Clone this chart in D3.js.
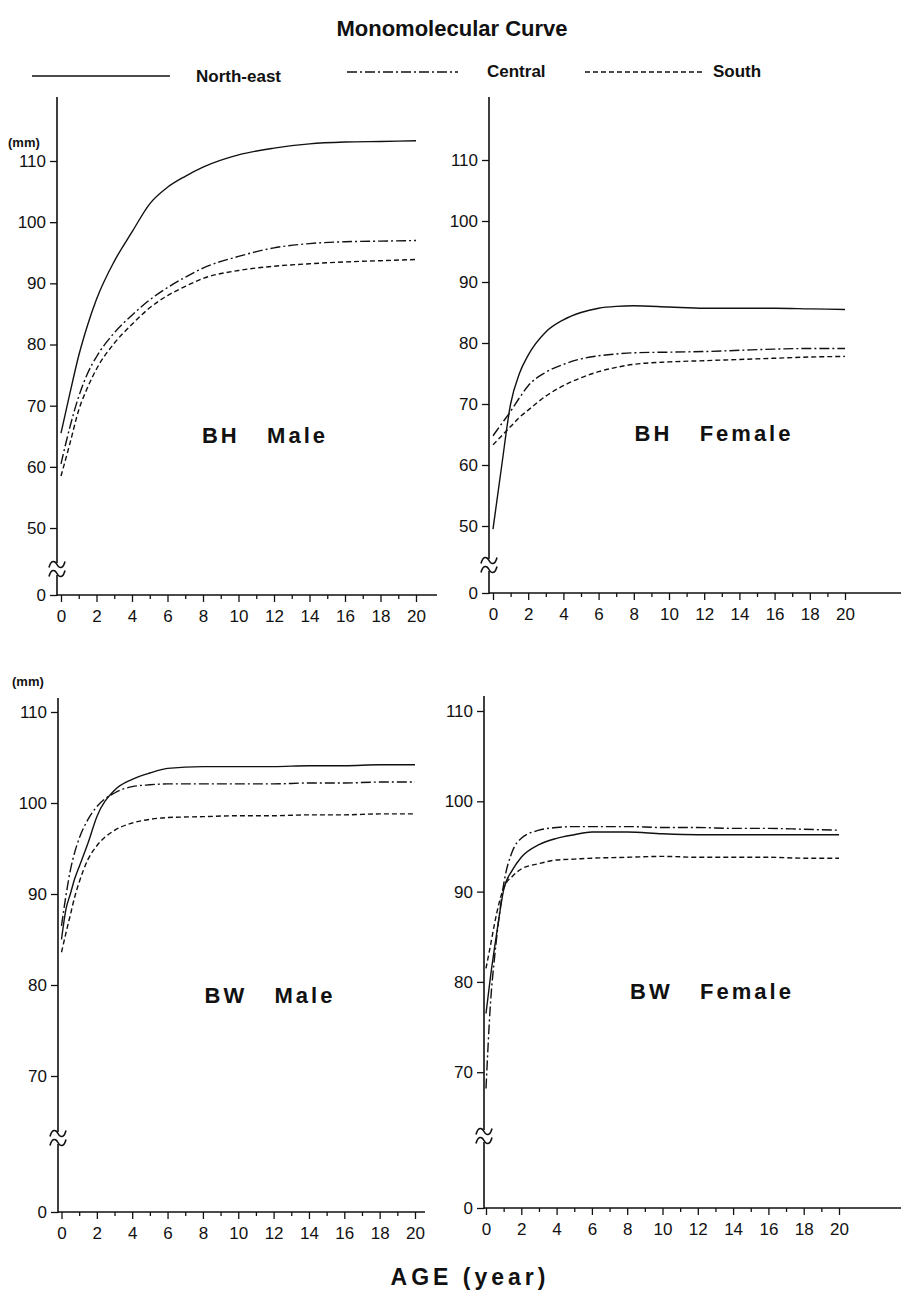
<!DOCTYPE html>
<html>
<head>
<meta charset="utf-8">
<script src="https://cdn.jsdelivr.net/npm/d3@7"></script>
<style>
    body { margin: 0; background: #fff; }
    svg { display: block; }
    text { fill: #111; }
    .tick text { font-family: 'Liberation Sans', Arial, sans-serif; font-size: 17px; fill: #111; }
    .tick line { stroke: #111; stroke-width: 1.3; }
    .axis-line { stroke: #111; stroke-width: 1.6; fill: none; }
    .curve { fill: none; stroke: #111; stroke-width: 1.4; }
    .title { font-family: 'Liberation Sans', Arial, sans-serif; font-weight: bold; font-size: 22px; }
    .legend-label { font-family: 'Liberation Sans', Arial, sans-serif; font-weight: bold; font-size: 17px; }
    .panel-title { font-family: 'Liberation Sans', Arial, sans-serif; font-weight: bold; font-size: 22px; letter-spacing: 3px; white-space: pre; }
    .unit { font-family: 'Liberation Sans', Arial, sans-serif; font-weight: bold; font-size: 13px; }
    .axis-label { font-family: 'Liberation Sans', Arial, sans-serif; font-weight: bold; font-size: 23px; letter-spacing: 4px; }
</style>
</head>
<body>
<script>
// data
const regions = ['North-east', 'Central', 'South']
const ageTicks = d3.range(0, 21)
const bhTicks = [0, 50, 60, 70, 80, 90, 100, 110]
const bwTicks = [0, 70, 80, 90, 100, 110]

const agesBH = [0, 0.5, 1, 1.5, 2, 3, 4, 5, 6, 7, 8, 10, 12, 14, 16, 18, 20]
const bhMaleNorthEast = [65.5, 72.0, 78.2, 83.2, 87.4, 93.6, 98.4, 103.0, 105.7, 107.5, 109.0, 111.0, 112.1, 112.8, 113.1, 113.2, 113.3]
const bhMaleCentral = [60.5, 66.5, 71.5, 75.3, 78.0, 81.9, 84.8, 87.3, 89.3, 91.0, 92.5, 94.4, 95.8, 96.5, 96.8, 96.9, 97.0]
const bhMaleSouth = [58.5, 63.8, 69.3, 73.0, 76.0, 80.2, 83.3, 86.0, 88.0, 89.5, 90.8, 92.1, 92.8, 93.2, 93.5, 93.7, 93.9]
const bhFemaleNorthEast = [49.5, 60.0, 70.0, 75.0, 78.0, 81.8, 83.8, 85.0, 85.7, 86.0, 86.1, 85.9, 85.7, 85.7, 85.7, 85.6, 85.5]
const bhFemaleCentral = [64.8, 66.8, 68.8, 71.0, 73.0, 75.2, 76.5, 77.4, 77.9, 78.2, 78.4, 78.5, 78.6, 78.8, 79.0, 79.1, 79.1]
const bhFemaleSouth = [63.3, 64.8, 66.3, 67.8, 69.0, 71.3, 73.0, 74.3, 75.3, 76.0, 76.5, 76.9, 77.1, 77.3, 77.5, 77.7, 77.8]

const agesBW = [0, 0.25, 0.5, 0.75, 1, 1.5, 2, 3, 4, 5, 6, 8, 10, 12, 14, 16, 18, 20]
const bwMaleNorthEast = [85.0, 88.3, 90.0, 91.7, 93.0, 95.6, 98.5, 101.4, 102.6, 103.3, 103.8, 104.0, 104.0, 104.0, 104.1, 104.1, 104.2, 104.2]
const bwMaleCentral = [86.5, 89.8, 92.6, 94.6, 96.1, 98.2, 99.6, 101.1, 101.8, 102.0, 102.1, 102.1, 102.1, 102.1, 102.2, 102.2, 102.3, 102.3]
const bwMaleSouth = [83.6, 85.7, 87.7, 89.7, 91.3, 93.8, 95.3, 97.0, 97.8, 98.2, 98.4, 98.5, 98.6, 98.6, 98.7, 98.7, 98.8, 98.8]
const bwFemaleNorthEast = [76.5, 80.5, 84.0, 87.3, 90.2, 92.4, 93.8, 95.2, 95.9, 96.3, 96.6, 96.6, 96.4, 96.3, 96.3, 96.3, 96.3, 96.3]
const bwFemaleCentral = [68.2, 77.5, 83.0, 87.3, 90.8, 94.5, 95.9, 96.8, 97.1, 97.2, 97.2, 97.2, 97.1, 97.1, 97.0, 97.0, 96.9, 96.8]
const bwFemaleSouth = [81.5, 84.0, 86.6, 88.8, 90.4, 91.7, 92.5, 93.1, 93.5, 93.6, 93.7, 93.8, 93.9, 93.8, 93.8, 93.8, 93.7, 93.7]

// layout
const width = 901
const height = 1293
const dashes = {'North-east': null, 'Central': '10,3,2,3', 'South': '5,3'}

const panels = [
    {
        title: 'BH   Male', ages: agesBH, ticks: bhTicks, low: 45,
        series: [bhMaleNorthEast, bhMaleCentral, bhMaleSouth],
        axisX: 57, x0: 61, x20: 416, xEnd: 437,
        yTop: 97, y110: 161, perUnit: 6.117, y0: 595, yBreak: 569,
        titleX: 265, titleY: 443
    },
    {
        title: 'BH   Female', ages: agesBH, ticks: bhTicks, low: 45,
        series: [bhFemaleNorthEast, bhFemaleCentral, bhFemaleSouth],
        axisX: 489, x0: 493, x20: 845, xEnd: 901,
        yTop: 97, y110: 160, perUnit: 6.1, y0: 593, yBreak: 565,
        titleX: 714, titleY: 441
    },
    {
        title: 'BW   Male', ages: agesBW, ticks: bwTicks, low: 60,
        series: [bwMaleNorthEast, bwMaleCentral, bwMaleSouth],
        axisX: 58, x0: 61.5, x20: 415, xEnd: 425,
        yTop: 698, y110: 712, perUnit: 9.1, y0: 1212, yBreak: 1138,
        titleX: 270, titleY: 1003
    },
    {
        title: 'BW   Female', ages: agesBW, ticks: bwTicks, low: 60,
        series: [bwFemaleNorthEast, bwFemaleCentral, bwFemaleSouth],
        axisX: 484, x0: 486, x20: 839, xEnd: 901,
        yTop: 696, y110: 711, perUnit: 9.03, y0: 1208, yBreak: 1136,
        titleX: 712, titleY: 999
    }
]

const svg = d3.select('body').append('svg')
    .attr('width', width)
    .attr('height', height)

// title
svg.append('text')
    .attr('class', 'title')
    .attr('x', 452)
    .attr('y', 36)
    .attr('text-anchor', 'middle')
    .text('Monomolecular Curve')

// legend
const legendItems = [
    {region: regions[0], x1: 32, x2: 170, y: 76, tx: 196, ty: 82},
    {region: regions[1], x1: 347, x2: 458, y: 72, tx: 487, ty: 77},
    {region: regions[2], x1: 585, x2: 704, y: 72, tx: 713, ty: 77}
]
legendItems.forEach(d => {
    svg.append('line')
        .attr('class', 'curve')
        .attr('x1', d.x1).attr('x2', d.x2)
        .attr('y1', d.y).attr('y2', d.y)
        .attr('stroke-dasharray', dashes[d.region])
    svg.append('text')
        .attr('class', 'legend-label')
        .attr('x', d.tx)
        .attr('y', d.ty)
        .text(d.region)
})

// panels
panels.forEach(drawPanel)

// units
svg.append('text').attr('class', 'unit').attr('x', 8).attr('y', 147).text('(mm)')
svg.append('text').attr('class', 'unit').attr('x', 12).attr('y', 686).text('(mm)')

// x axis label
svg.append('text')
    .attr('class', 'axis-label')
    .attr('x', 470)
    .attr('y', 1285)
    .attr('text-anchor', 'middle')
    .text('AGE (year)')


function drawPanel(p) {
    const g = svg.append('g')

    // scales (broken y axis: compressed segment below p.low)
    const yLow = p.y110 + (110 - p.low) * p.perUnit
    const y = d3.scaleLinear()
        .domain([0, p.low, 110])
        .range([p.y0, yLow, p.y110])
    const x = d3.scaleLinear()
        .domain([0, 20])
        .range([p.x0, p.x20])

    // axes
    const yAxis = d3.axisLeft(y)
        .tickValues(p.ticks)
        .tickSize(7)
        .tickPadding(4)
    const gy = g.append('g')
        .attr('transform', `translate(${p.axisX},0)`)
        .call(yAxis)
    gy.select('.domain').remove()

    const xAxis = d3.axisBottom(x)
        .tickValues(ageTicks)
        .tickSize(7)
        .tickPadding(8)
        .tickFormat(d => d % 2 == 0 ? d : '')
    const gx = g.append('g')
        .attr('transform', `translate(0,${p.y0})`)
        .call(xAxis)
    gx.select('.domain').remove()
    gx.selectAll('.tick line')
        .attr('y2', d => d % 2 == 0 ? 7 : 4)

    g.append('path')
        .attr('class', 'axis-line')
        .attr('d', `M${p.axisX},${p.yTop}V${p.y0 + 1}M${p.axisX},${p.y0}H${p.xEnd}`)

    // axis break
    g.append('rect')
        .attr('x', p.axisX - 3)
        .attr('y', p.yBreak - 6)
        .attr('width', 6)
        .attr('height', 12)
        .attr('fill', '#fff')
    for (let off of [-4.5, 4.5]) {
        const yb = p.yBreak + off
        const ax = p.axisX
        g.append('path')
            .attr('class', 'axis-line')
            .attr('stroke-width', 1.5)
            .attr('d', `M${ax - 8},${yb + 3} C${ax - 6},${yb - 5} ${ax - 2},${yb - 4} ${ax},${yb} S${ax + 6},${yb + 5} ${ax + 8},${yb - 3}`)
    }

    // curves
    const line = d3.line()
        .x(d => x(d[0]))
        .y(d => y(d[1]))
        .curve(d3.curveMonotoneX)

    p.series.forEach((values, i) => {
        g.append('path')
            .datum(p.ages.map((a, j) => [a, values[j]]))
            .attr('class', 'curve')
            .attr('stroke-dasharray', dashes[regions[i]])
            .attr('d', line)
    })

    // panel title
    g.append('text')
        .attr('class', 'panel-title')
        .attr('x', p.titleX)
        .attr('y', p.titleY)
        .attr('text-anchor', 'middle')
        .text(p.title)
}
</script>
</body>
</html>
